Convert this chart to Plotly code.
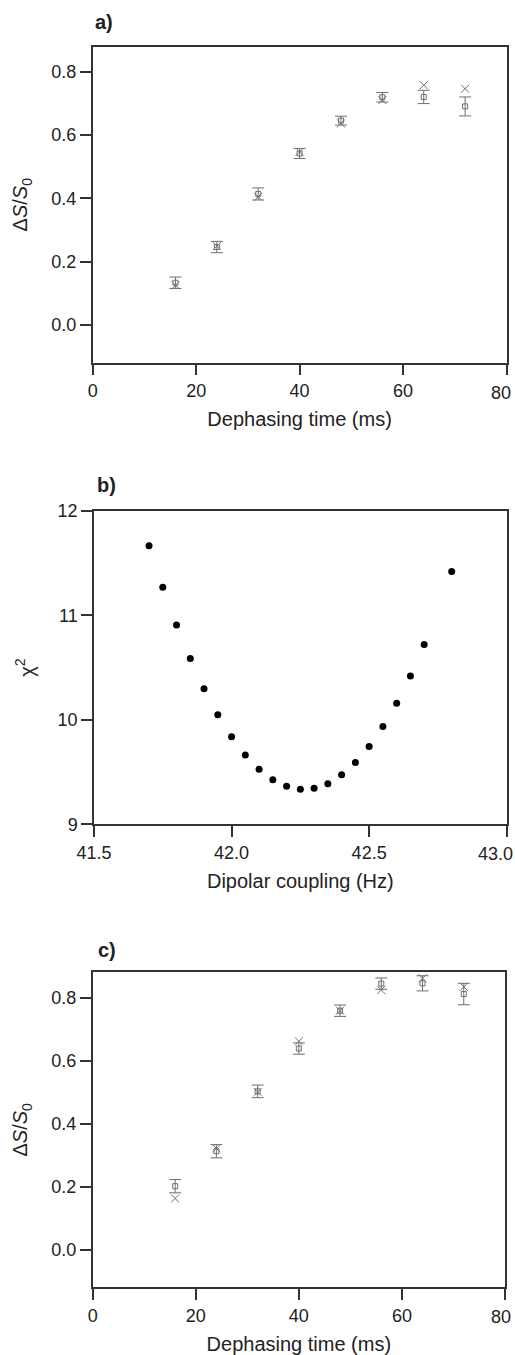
import plotly.graph_objects as go

# ---------------- data ----------------
# Panel a
t_a = [16, 24, 32, 40, 48, 56, 64, 72]
exp_a = [0.133, 0.246, 0.414, 0.542, 0.646, 0.720, 0.721, 0.691]
err_a = [0.018, 0.018, 0.019, 0.016, 0.014, 0.015, 0.021, 0.030]
sim_a = [0.125, 0.249, 0.405, 0.547, 0.637, 0.711, 0.758, 0.747]

# Panel b
coupling_b = [41.70, 41.75, 41.80, 41.85, 41.90, 41.95, 42.00, 42.05, 42.10, 42.15, 42.20,
              42.25, 42.30, 42.35, 42.40, 42.45, 42.50, 42.55, 42.60, 42.65, 42.70, 42.80]
chi2_b = [11.665, 11.268, 10.907, 10.585, 10.297, 10.048, 9.837, 9.664, 9.526, 9.425, 9.363,
          9.335, 9.344, 9.389, 9.473, 9.591, 9.744, 9.936, 10.159, 10.418, 10.719, 11.419]

# Panel c
t_c = [16, 24, 32, 40, 48, 56, 64, 72]
exp_c = [0.201, 0.312, 0.502, 0.638, 0.758, 0.844, 0.845, 0.811]
err_c = [0.021, 0.021, 0.020, 0.018, 0.018, 0.018, 0.024, 0.034]
sim_c = [0.162, 0.321, 0.500, 0.661, 0.758, 0.824, 0.861, 0.834]

# ticks (the last x label of each panel sits flush with the page edge, drawn separately)
x_ticks_t = [0, 20, 40, 60, 80]
x_labels_t = ["0", "20", "40", "60", ""]
x_edge_t = "80"
y_ticks_ds = [0.0, 0.2, 0.4, 0.6, 0.8]
y_labels_ds = ["0.0", "0.2", "0.4", "0.6", "0.8"]
x_ticks_b = [41.5, 42.0, 42.5, 43.0]
x_labels_b = ["41.5", "42.0", "42.5", ""]
x_edge_b = "43.0"
y_ticks_b = [9, 10, 11, 12]
y_labels_b = ["9", "10", "11", "12"]

W, H = 515, 1355
FONT = "Liberation Sans, Arial, sans-serif"
AX = "#333333"
GREY = "#6e6e6e"
TXT = "#222222"

fig = go.Figure()

def exp_trace(x, y, e, xa, ya):
    return go.Scatter(
        x=x, y=y, mode="markers", xaxis=xa, yaxis=ya, showlegend=False,
        marker=dict(symbol="square-open", size=5, color=GREY, line=dict(width=1, color=GREY)),
        error_y=dict(type="data", array=e, visible=True, color=GREY, thickness=1, width=6),
    )

def sim_trace(x, y, xa, ya):
    return go.Scatter(
        x=x, y=y, mode="markers", xaxis=xa, yaxis=ya, showlegend=False,
        marker=dict(symbol="x-thin-open", size=8, color=GREY, line=dict(width=1, color=GREY)),
    )

fig.add_trace(exp_trace(t_a, exp_a, err_a, "x", "y"))
fig.add_trace(sim_trace(t_a, sim_a, "x", "y"))

fig.add_trace(go.Scatter(
    x=coupling_b, y=chi2_b, mode="markers", xaxis="x2", yaxis="y2", showlegend=False,
    marker=dict(symbol="circle", size=7, color="black"),
))

fig.add_trace(exp_trace(t_c, exp_c, err_c, "x3", "y3"))
fig.add_trace(sim_trace(t_c, sim_c, "x3", "y3"))

def px_x(p):
    return p / W

def px_y(p):
    return 1 - p / H

TICK_SIZE = 18
tickfont = dict(family=FONT, size=TICK_SIZE, color=TXT)
titlefont = dict(family=FONT, size=20, color=TXT)

def xaxis(domain, rng, ticks, labels, anchor, title):
    return dict(
        domain=domain, range=rng, anchor=anchor, tickmode="array", tickvals=ticks, ticktext=labels,
        showline=True, mirror=True, linecolor=AX, linewidth=1.5,
        ticks="outside", ticklen=11, tickwidth=1.5, tickcolor=AX,
        showgrid=False, zeroline=False, tickfont=tickfont, automargin=False,
        title=dict(text=title, font=titlefont, standoff=12),
    )

def yaxis(domain, rng, ticks, labels, anchor, title):
    return dict(
        domain=domain, range=rng, anchor=anchor, tickmode="array", tickvals=ticks, ticktext=labels,
        showline=True, mirror=True, linecolor=AX, linewidth=1.5,
        ticks="outside", ticklen=11, tickwidth=1.5, tickcolor=AX,
        showgrid=False, zeroline=False, tickfont=tickfont, automargin=False,
        title=dict(text=title, font=titlefont, standoff=18),
    )

ds_title = "Δ<i>S</i>/<i>S</i><sub>0</sub>"

fig.update_layout(
    width=W, height=H,
    margin=dict(l=0, r=0, t=0, b=0),
    paper_bgcolor="white", plot_bgcolor="white",
    font=dict(family=FONT, color=TXT),
    xaxis=xaxis([px_x(92.7), px_x(506.5)], [0, 80], x_ticks_t, x_labels_t, "y", "Dephasing time (ms)"),
    yaxis=yaxis([px_y(362.7), px_y(46.7)], [-0.12, 0.88], y_ticks_ds, y_labels_ds, "x", ds_title),
    xaxis2=xaxis([px_x(94), px_x(506.7)], [41.5, 43.0], x_ticks_b, x_labels_b, "y2", "Dipolar coupling (Hz)"),
    yaxis2=yaxis([px_y(824.3), px_y(510.7)], [9, 12], y_ticks_b, y_labels_b, "x2", "χ<sup>2</sup>"),
    xaxis3=xaxis([px_x(92.7), px_x(505)], [0, 80], x_ticks_t, x_labels_t, "y3", "Dephasing time (ms)"),
    yaxis3=yaxis([px_y(1287.3), px_y(972.3)], [-0.12, 0.88], y_ticks_ds, y_labels_ds, "x3", ds_title),
)

# last tick labels, nudged inward so they stay inside the page (as in the reference)
for text, xv, xr, yr, shift in [(x_edge_t, x_ticks_t[-1], "x", "y domain", -6),
                                (x_edge_b, x_ticks_b[-1], "x2", "y2 domain", -11),
                                (x_edge_t, x_ticks_t[-1], "x3", "y3 domain", -4)]:
    fig.add_annotation(
        text=text, x=xv, y=0, xref=xr, yref=yr, xanchor="center", yanchor="top",
        xshift=shift, yshift=-19, showarrow=False, borderpad=0,
        font=tickfont,
    )

for label, xp, yp in [("a)", 93, 22), ("b)", 95, 485), ("c)", 96, 950)]:
    fig.add_annotation(
        text=f"<b>{label}</b>", x=px_x(xp), y=px_y(yp), xref="paper", yref="paper",
        xanchor="left", yanchor="middle", showarrow=False,
        font=dict(family=FONT, size=20, color=TXT),
    )

fig.write_html("out.html")
